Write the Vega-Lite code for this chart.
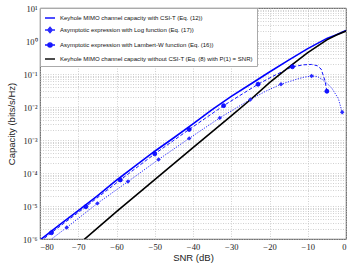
{
  "$schema": "https://vega.github.io/schema/vega-lite/v6.json",
  "width": 306,
  "height": 231,
  "autosize": {"type": "none"},
  "padding": {"left": 40, "top": 8, "right": 7, "bottom": 29},
  "background": "white",
  "config": {
    "view": {"stroke": "#222", "strokeWidth": 0.8},
    "axis": {
      "labelFont": "Liberation Serif",
      "labelFontSize": 8.5,
      "labelColor": "#222",
      "titleFont": "Liberation Sans",
      "titleFontSize": 9.5,
      "titleFontWeight": "normal",
      "titleColor": "#222",
      "ticks": false,
      "domain": false,
      "gridColor": "#bdbdbd",
      "gridDash": [1, 1.5],
      "gridWidth": 0.7,
      "labelOverlap": false
    }
  },
  "datasets": {
    "curves": [
      {"s": "Keyhole MIMO channel capacity with CSI-T (Eq. (12))", "snr": -80, "c": 9.33e-7},
      {"s": "Keyhole MIMO channel capacity with CSI-T (Eq. (12))", "snr": -75, "c": 2.63e-6},
      {"s": "Keyhole MIMO channel capacity with CSI-T (Eq. (12))", "snr": -70, "c": 7.24e-6},
      {"s": "Keyhole MIMO channel capacity with CSI-T (Eq. (12))", "snr": -65, "c": 2.04e-5},
      {"s": "Keyhole MIMO channel capacity with CSI-T (Eq. (12))", "snr": -60, "c": 6.03e-5},
      {"s": "Keyhole MIMO channel capacity with CSI-T (Eq. (12))", "snr": -55, "c": 1.66e-4},
      {"s": "Keyhole MIMO channel capacity with CSI-T (Eq. (12))", "snr": -50, "c": 4.57e-4},
      {"s": "Keyhole MIMO channel capacity with CSI-T (Eq. (12))", "snr": -45, "c": 1.17e-3},
      {"s": "Keyhole MIMO channel capacity with CSI-T (Eq. (12))", "snr": -40, "c": 3.09e-3},
      {"s": "Keyhole MIMO channel capacity with CSI-T (Eq. (12))", "snr": -35, "c": 8.32e-3},
      {"s": "Keyhole MIMO channel capacity with CSI-T (Eq. (12))", "snr": -30, "c": 2.09e-2},
      {"s": "Keyhole MIMO channel capacity with CSI-T (Eq. (12))", "snr": -25, "c": 4.9e-2},
      {"s": "Keyhole MIMO channel capacity with CSI-T (Eq. (12))", "snr": -20, "c": 0.115},
      {"s": "Keyhole MIMO channel capacity with CSI-T (Eq. (12))", "snr": -15, "c": 0.263},
      {"s": "Keyhole MIMO channel capacity with CSI-T (Eq. (12))", "snr": -10, "c": 0.589},
      {"s": "Keyhole MIMO channel capacity with CSI-T (Eq. (12))", "snr": -5, "c": 1.2},
      {"s": "Keyhole MIMO channel capacity with CSI-T (Eq. (12))", "snr": -2.5, "c": 1.55},
      {"s": "Keyhole MIMO channel capacity with CSI-T (Eq. (12))", "snr": 0, "c": 2.09},
      {"s": "Asymptotic expression with Log function (Eq. (17))", "snr": -80, "c": 5.4e-7},
      {"s": "Asymptotic expression with Log function (Eq. (17))", "snr": -73, "c": 2.24e-6},
      {"s": "Asymptotic expression with Log function (Eq. (17))", "snr": -65, "c": 1.2e-5},
      {"s": "Asymptotic expression with Log function (Eq. (17))", "snr": -57, "c": 5.5e-5},
      {"s": "Asymptotic expression with Log function (Eq. (17))", "snr": -49, "c": 2.57e-4},
      {"s": "Asymptotic expression with Log function (Eq. (17))", "snr": -41, "c": 1.12e-3},
      {"s": "Asymptotic expression with Log function (Eq. (17))", "snr": -33, "c": 4.68e-3},
      {"s": "Asymptotic expression with Log function (Eq. (17))", "snr": -25, "c": 1.7e-2},
      {"s": "Asymptotic expression with Log function (Eq. (17))", "snr": -21, "c": 3.0e-2},
      {"s": "Asymptotic expression with Log function (Eq. (17))", "snr": -17, "c": 4.9e-2},
      {"s": "Asymptotic expression with Log function (Eq. (17))", "snr": -13, "c": 6.9e-2},
      {"s": "Asymptotic expression with Log function (Eq. (17))", "snr": -11, "c": 8.0e-2},
      {"s": "Asymptotic expression with Log function (Eq. (17))", "snr": -9, "c": 8.7e-2},
      {"s": "Asymptotic expression with Log function (Eq. (17))", "snr": -7.5, "c": 8.4e-2},
      {"s": "Asymptotic expression with Log function (Eq. (17))", "snr": -6, "c": 6.6e-2},
      {"s": "Asymptotic expression with Log function (Eq. (17))", "snr": -4.5, "c": 4.6e-2},
      {"s": "Asymptotic expression with Log function (Eq. (17))", "snr": -3.7, "c": 3.7e-2},
      {"s": "Asymptotic expression with Log function (Eq. (17))", "snr": -2, "c": 1.8e-2},
      {"s": "Asymptotic expression with Log function (Eq. (17))", "snr": -1, "c": 6.9e-3},
      {"s": "Asymptotic expression with Lambert-W function (Eq. (16))", "snr": -80, "c": 8.3e-7},
      {"s": "Asymptotic expression with Lambert-W function (Eq. (16))", "snr": -77, "c": 1.55e-6},
      {"s": "Asymptotic expression with Lambert-W function (Eq. (16))", "snr": -68, "c": 9.55e-6},
      {"s": "Asymptotic expression with Lambert-W function (Eq. (16))", "snr": -59, "c": 6.17e-5},
      {"s": "Asymptotic expression with Lambert-W function (Eq. (16))", "snr": -50, "c": 3.8e-4},
      {"s": "Asymptotic expression with Lambert-W function (Eq. (16))", "snr": -41, "c": 2.09e-3},
      {"s": "Asymptotic expression with Lambert-W function (Eq. (16))", "snr": -32, "c": 1.1e-2},
      {"s": "Asymptotic expression with Lambert-W function (Eq. (16))", "snr": -23, "c": 4.9e-2},
      {"s": "Asymptotic expression with Lambert-W function (Eq. (16))", "snr": -18.5, "c": 9.3e-2},
      {"s": "Asymptotic expression with Lambert-W function (Eq. (16))", "snr": -14, "c": 0.166},
      {"s": "Asymptotic expression with Lambert-W function (Eq. (16))", "snr": -11, "c": 0.19},
      {"s": "Asymptotic expression with Lambert-W function (Eq. (16))", "snr": -9, "c": 0.195},
      {"s": "Asymptotic expression with Lambert-W function (Eq. (16))", "snr": -7.5, "c": 0.178},
      {"s": "Asymptotic expression with Lambert-W function (Eq. (16))", "snr": -6.5, "c": 0.141},
      {"s": "Asymptotic expression with Lambert-W function (Eq. (16))", "snr": -5.5, "c": 0.063},
      {"s": "Asymptotic expression with Lambert-W function (Eq. (16))", "snr": -5, "c": 0.03},
      {"s": "Keyhole MIMO channel capacity without CSI-T (Eq. (8) with P(1) = SNR)", "snr": -70, "c": 6.76e-7},
      {"s": "Keyhole MIMO channel capacity without CSI-T (Eq. (8) with P(1) = SNR)", "snr": -60, "c": 6.76e-6},
      {"s": "Keyhole MIMO channel capacity without CSI-T (Eq. (8) with P(1) = SNR)", "snr": -50, "c": 6.31e-5},
      {"s": "Keyhole MIMO channel capacity without CSI-T (Eq. (8) with P(1) = SNR)", "snr": -40, "c": 5.89e-4},
      {"s": "Keyhole MIMO channel capacity without CSI-T (Eq. (8) with P(1) = SNR)", "snr": -30, "c": 5.37e-3},
      {"s": "Keyhole MIMO channel capacity without CSI-T (Eq. (8) with P(1) = SNR)", "snr": -25, "c": 1.66e-2},
      {"s": "Keyhole MIMO channel capacity without CSI-T (Eq. (8) with P(1) = SNR)", "snr": -20, "c": 5.5e-2},
      {"s": "Keyhole MIMO channel capacity without CSI-T (Eq. (8) with P(1) = SNR)", "snr": -15, "c": 0.158},
      {"s": "Keyhole MIMO channel capacity without CSI-T (Eq. (8) with P(1) = SNR)", "snr": -10, "c": 0.447},
      {"s": "Keyhole MIMO channel capacity without CSI-T (Eq. (8) with P(1) = SNR)", "snr": -5, "c": 1.085},
      {"s": "Keyhole MIMO channel capacity without CSI-T (Eq. (8) with P(1) = SNR)", "snr": -2.5, "c": 1.51},
      {"s": "Keyhole MIMO channel capacity without CSI-T (Eq. (8) with P(1) = SNR)", "snr": 0, "c": 2.0}
    ],
    "markers": [
      {"s": "Asymptotic expression with Log function (Eq. (17))", "snr": -73, "c": 2.24e-6},
      {"s": "Asymptotic expression with Log function (Eq. (17))", "snr": -65, "c": 1.2e-5},
      {"s": "Asymptotic expression with Log function (Eq. (17))", "snr": -57, "c": 5.5e-5},
      {"s": "Asymptotic expression with Log function (Eq. (17))", "snr": -49, "c": 2.57e-4},
      {"s": "Asymptotic expression with Log function (Eq. (17))", "snr": -41, "c": 1.12e-3},
      {"s": "Asymptotic expression with Log function (Eq. (17))", "snr": -33, "c": 4.68e-3},
      {"s": "Asymptotic expression with Log function (Eq. (17))", "snr": -25, "c": 1.7e-2},
      {"s": "Asymptotic expression with Log function (Eq. (17))", "snr": -17, "c": 4.9e-2},
      {"s": "Asymptotic expression with Log function (Eq. (17))", "snr": -9, "c": 8.7e-2},
      {"s": "Asymptotic expression with Log function (Eq. (17))", "snr": -1, "c": 6.9e-3},
      {"s": "Asymptotic expression with Lambert-W function (Eq. (16))", "snr": -77, "c": 1.55e-6},
      {"s": "Asymptotic expression with Lambert-W function (Eq. (16))", "snr": -68, "c": 9.55e-6},
      {"s": "Asymptotic expression with Lambert-W function (Eq. (16))", "snr": -59, "c": 6.17e-5},
      {"s": "Asymptotic expression with Lambert-W function (Eq. (16))", "snr": -50, "c": 3.8e-4},
      {"s": "Asymptotic expression with Lambert-W function (Eq. (16))", "snr": -41, "c": 2.09e-3},
      {"s": "Asymptotic expression with Lambert-W function (Eq. (16))", "snr": -32, "c": 1.1e-2},
      {"s": "Asymptotic expression with Lambert-W function (Eq. (16))", "snr": -23, "c": 4.9e-2},
      {"s": "Asymptotic expression with Lambert-W function (Eq. (16))", "snr": -14, "c": 0.166},
      {"s": "Asymptotic expression with Lambert-W function (Eq. (16))", "snr": -5, "c": 0.03}
    ]
  },
  "encoding": {
    "x": {
      "field": "snr", "type": "quantitative", "title": "SNR (dB)",
      "scale": {"domain": [-80, 0], "nice": false, "zero": false},
      "axis": {"values": [-80, -70, -60, -50, -40, -30, -20, -10, 0], "format": "d", "labelPadding": 3, "titlePadding": 2}
    },
    "y": {
      "field": "c", "type": "quantitative", "title": "Capacity (bits/s/Hz)",
      "scale": {"type": "log", "domain": [1e-6, 10], "nice": false},
      "axis": {
        "values": [1e-6,2e-6,3e-6,4e-6,5e-6,6e-6,7e-6,8e-6,9e-6,1e-5,2e-5,3e-5,4e-5,5e-5,6e-5,7e-5,8e-5,9e-5,1e-4,2e-4,3e-4,4e-4,5e-4,6e-4,7e-4,8e-4,9e-4,1e-3,2e-3,3e-3,4e-3,5e-3,6e-3,7e-3,8e-3,9e-3,1e-2,2e-2,3e-2,4e-2,5e-2,6e-2,7e-2,8e-2,9e-2,0.1,0.2,0.3,0.4,0.5,0.6,0.7,0.8,0.9,1,2,3,4,5,6,7,8,9,10],
        "labelExpr": "abs(log(datum.value)/LN10 - round(log(datum.value)/LN10)) < 0.01 ? '10' + ['⁻⁶','⁻⁵','⁻⁴','⁻³','⁻²','⁻¹','⁰','¹'][round(log(datum.value)/LN10) + 6] : ''",
        "labelPadding": 3,
        "titlePadding": 6
      }
    }
  },
  "layer": [
    {
      "data": {"name": "curves"},
      "transform": [{"filter": "indexof(datum.s,'Asymptotic')>=0"}],
      "mark": {"type": "line", "clip": true, "strokeWidth": 1},
      "encoding": {
        "color": {
          "field": "s", "type": "nominal",
          "scale": {
            "domain": ["Keyhole MIMO channel capacity with CSI-T (Eq. (12))", "Asymptotic expression with Log function (Eq. (17))", "Asymptotic expression with Lambert-W function (Eq. (16))", "Keyhole MIMO channel capacity without CSI-T (Eq. (8) with P(1) = SNR)"],
            "range": ["#0000ff", "#2a2aff", "#1515ff", "#000000"]
          },
          "legend": {
            "title": null,
            "orient": "top-left",
            "offset": 0,
            "padding": 4,
            "fillColor": "white",
            "strokeColor": "#aaaaaa",
            "labelFont": "Liberation Sans",
            "labelFontSize": 6,
            "labelColor": "#111",
            "labelLimit": 400,
            "labelOffset": 4,
            "symbolSize": 100,
            "rowPadding": 3,
            "encode": {
              "symbols": {
                "update": {
                  "shape": {"signal": "indexof(datum.value,'Log function')>=0 ? 'M-1,0H-0.5M0.5,0H1M0,-0.55L0.45,0L0,0.55L-0.45,0Z' : indexof(datum.value,'Lambert')>=0 ? 'M-1,0H-0.42M0.42,0H1M0.42,0A0.42,0.42,0,1,1,-0.42,0A0.42,0.42,0,1,1,0.42,0Z' : 'M-1,0H1'"},
                  "fill": {"signal": "indexof(datum.value,'without')>=0 ? 'black' : 'blue'"},
                  "stroke": {"signal": "indexof(datum.value,'without')>=0 ? 'black' : 'blue'"},
                  "strokeWidth": {"value": 1.4},
                  "strokeDash": {"value": []},
                  "opacity": {"value": 1}
                }
              }
            }
          }
        },
        "strokeDash": {
          "field": "s", "type": "nominal", "legend": null,
          "scale": {
            "domain": ["Asymptotic expression with Log function (Eq. (17))", "Asymptotic expression with Lambert-W function (Eq. (16))"],
            "range": [[1.2, 1.4], [3.5, 2]]
          }
        }
      }
    },
    {
      "data": {"name": "curves"},
      "transform": [{"filter": "indexof(datum.s,'Keyhole')>=0"}],
      "mark": {"type": "line", "clip": true, "strokeWidth": 1.6},
      "encoding": {"color": {"field": "s", "type": "nominal"}}
    },
    {
      "data": {"name": "markers"},
      "transform": [{"filter": "indexof(datum.s,'Log function')>=0"}],
      "mark": {"type": "point", "shape": "diamond", "filled": true, "size": 20, "opacity": 1},
      "encoding": {"color": {"field": "s", "type": "nominal"}}
    },
    {
      "data": {"name": "markers"},
      "transform": [{"filter": "indexof(datum.s,'Lambert')>=0"}],
      "mark": {"type": "point", "shape": "circle", "filled": true, "size": 16, "opacity": 1, "stroke": "#0000ff", "strokeWidth": 0.8},
      "encoding": {"color": {"field": "s", "type": "nominal"}}
    }
  ]
}
